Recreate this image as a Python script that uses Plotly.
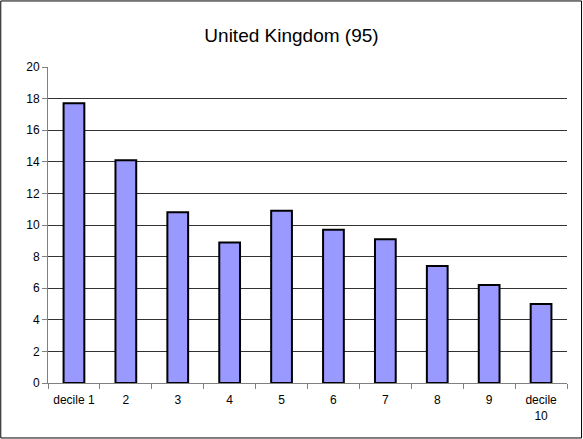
import plotly.graph_objects as go

categories = ["decile 1", "2", "3", "4", "5", "6", "7", "8", "9", "decile<br>10"]
values = [17.7, 14.1, 10.8, 8.9, 10.9, 9.7, 9.1, 7.4, 6.2, 5.0]

fig = go.Figure(go.Bar(
    x=categories, y=values,
    marker=dict(color="#9999ff", line=dict(color="black", width=2)),
))

fig.update_layout(
    width=583, height=439,
    margin=dict(l=48, r=16, t=67, b=56, autoexpand=False),
    paper_bgcolor="white", plot_bgcolor="white",
    font=dict(family="Arial, Liberation Sans", size=12, color="black"),
    title=dict(text="United Kingdom (95)", x=0.5, xanchor="center",
               y=0.92, yanchor="middle", font=dict(size=19)),
    showlegend=False,
    bargap=0.6,
    shapes=[dict(type="rect", xref="paper", yref="paper", x0=-0.091, x1=1.028,
                 y0=-0.174, y1=1.209, line=dict(color="black", width=1))],
)
fig.update_xaxes(showline=True, linecolor="#808080", ticks="outside",
                 ticklen=5, tickcolor="#808080", tickson="boundaries",
                 automargin=False, ticklabelstandoff=6)
fig.update_yaxes(range=[0, 20], dtick=2, showline=True, linecolor="#808080",
                 ticks="outside", ticklen=5, tickcolor="#808080",
                 gridcolor="#333333", gridwidth=1, zeroline=False,
                 automargin=False)

fig.write_html("out.html", post_script="document.body.style.margin='0';",
               config={"displayModeBar": False})
